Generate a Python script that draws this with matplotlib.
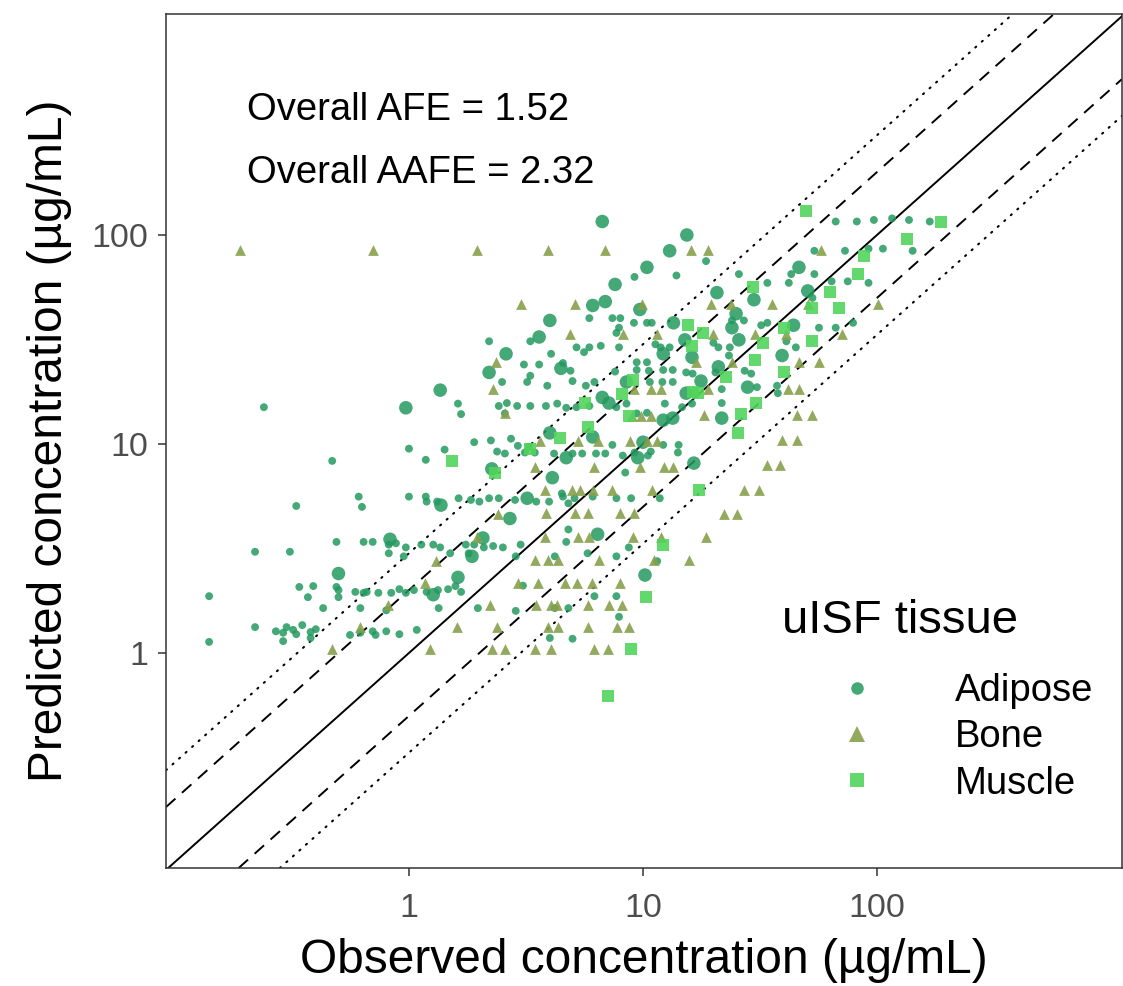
import numpy as np
import matplotlib
matplotlib.use("Agg")
import matplotlib.pyplot as plt
from matplotlib.lines import Line2D

plt.rcParams['font.family'] = ['Liberation Sans', 'DejaVu Sans']

# observed / predicted concentrations (ug/mL)
adipose_obs = [2.2, 2.6, 3.3, 3.6, 2.2, 2.5, 3.1, 3.3, 3.2, 0.24, 0.97, 1.36, 1.62, 1.67, 2.42, 2.62, 2.9, 3.3, 2.57,
               1.9, 2.24, 2.73, 2.92, 2.38, 2.57, 1.0, 1.42, 1.18, 0.47, 2.26, 0.61, 0.63, 0.33, 1.0, 1.18, 1.19, 1.32,
               1.37, 1.63, 1.84, 2.0, 2.2, 2.42, 3.2, 2.84, 3.5, 2.7, 0.49, 0.64, 0.70, 0.83, 0.82, 0.88, 0.97, 1.13,
               1.27, 1.36, 1.75, 1.9, 2.07, 2.09, 2.29, 2.52, 3.0, 0.22, 0.31, 0.82, 0.95, 1.5, 1.8, 1.86, 2.86, 0.5,
               1.62, 3.07, 0.34, 0.39, 0.37, 0.49, 0.5, 0.5, 0.59, 0.64, 0.66, 0.74, 0.84, 0.91, 0.97, 1.05, 1.19,
               1.27, 1.33, 1.47, 1.58, 1.67, 0.14, 0.43, 0.62, 0.80, 1.34, 1.97, 2.86, 0.22, 0.27, 0.29, 0.30, 0.32,
               0.33, 0.35, 0.38, 0.40, 0.38, 0.29, 0.56, 0.62, 0.70, 0.72, 0.80, 0.91, 1.08, 0.14, 4.1, 8.4, 9.5,
               10.8, 12.2, 14.2, 16.5, 3.97, 4.55, 5.1, 4.8, 7.7, 8.9, 11.8, 4.8, 6.4, 4.7, 8.7, 5.8, 7.7, 11.5, 4.2,
               10.2, 6.2, 7.7, 4.2, 4.8, 7.9, 4.0, 5.0, 21.7, 21.7, 21.7, 28, 30.7, 37.7, 66.6, 82, 97, 116, 137,
               168, 15.4, 18.6, 54, 73, 92, 106, 142, 46.4, 25.7, 43, 54, 34, 42, 64, 75, 92, 20.7, 29.8, 50.6, 53,
               25, 24, 27, 24, 32, 34, 44, 56.5, 66.6, 79, 25.7, 41, 45, 23.5, 21, 20, 16.2, 39.3, 21, 23.3, 27.2,
               29, 20.4, 16.3, 17.7, 15.3, 37.4, 6.7, 13, 10.4, 9.2, 13.9, 7.6, 6.9, 6.1, 9.7, 4.0, 5.9, 7.4, 8.0,
               9.15, 10.4, 10.9, 13.5, 7.9, 7.7, 5.2, 5.9, 6.6, 7.9, 11.3, 11.9, 13, 15.1, 5.6, 4.05, 9.4, 10.4,
               12.2, 3.6, 4.55, 4.46, 4.9, 7.6, 9.4, 10.6, 12.2, 13.4, 3.9, 5.0, 5.7, 6.2, 6.7, 8.5, 10.7, 12.1,
               13.4, 15.3, 3.85, 4.3, 4.7, 5.2, 5.9, 7.15, 7.7, 8.5, 9.4, 10.4, 12.4, 13.4, 12.2, 14.7, 16.2, 4.0,
               6.1, 10, 4.7, 3.26, 7.4, 3.13, 3.45, 4.17, 5.0, 5.5, 6.3, 6.9, 8.2, 9.2, 10.5, 14.1, 4.5, 6.1]
adipose_pred = [31, 27, 31, 32.5, 22, 19.8, 24, 21.2, 19.8, 15, 14.9, 18.1, 15.6, 13.9, 15.2, 15.7, 15.2, 15.2, 14,
                10.2, 10.4, 10.6, 9.8, 9.2, 9.0, 9.5, 9.4, 8.4, 8.3, 7.6, 5.6, 5.0, 5.05, 5.6, 5.6, 5.3, 5.3,
                5.1, 5.5, 5.4, 5.3, 5.5, 5.5, 5.5, 5.4, 5.3, 4.4, 3.4, 3.4, 3.4, 3.5, 3.3, 3.35, 3.2, 3.3,
                3.3, 3.2, 3.3, 3.3, 3.55, 3.2, 3.25, 3.2, 3.3, 3.05, 3.05, 3.0, 2.9, 3.0, 3.0, 2.9, 2.9, 2.4,
                2.3, 2.1, 2.07, 2.09, 1.85, 2.07, 2.0, 1.85, 1.96, 1.94, 1.96, 1.94, 1.94, 2.02, 1.94, 2.0, 1.96,
                1.9, 2.0, 2.02, 2.09, 1.96, 1.87, 1.64, 1.64, 1.6, 1.64, 1.64, 1.59, 1.33, 1.27, 1.25, 1.33, 1.29,
                1.23, 1.36, 1.26, 1.3, 1.18, 1.14, 1.22, 1.25, 1.27, 1.22, 1.27, 1.23, 1.29, 1.13, 6.9, 7.3, 8.6,
                9.2, 9.9, 9.9, 8.1, 5.3, 5.6, 5.5, 5.2, 5.5, 5.5, 5.5, 3.9, 3.7, 3.4, 3.2, 3.0, 2.9, 2.75, 2.9,
                2.36, 1.87, 1.87, 1.64, 1.64, 1.49, 1.18, 1.17, 18.3, 15.7, 13.3, 18.7, 18.7, 17.5, 116, 116, 118, 120, 118,
                116, 100, 75, 84, 84, 86, 86, 84, 70, 65, 65, 65, 59, 59, 60, 60, 59, 53, 49, 54, 50,
                42, 39, 39, 36, 37, 38, 37, 36, 36, 38, 31.5, 31, 29, 29, 29, 30.5, 26, 26.5, 23.4, 26.5, 22.4,
                21.7, 22, 21.7, 20, 22, 19, 116, 84, 70, 63, 64, 58, 48, 46, 44, 39, 40, 40, 40,
                38, 38, 38, 38, 36, 34, 29, 29, 29.5, 29, 30, 29, 29, 31.5, 27.5, 27, 24.6, 24.6,
                27, 24, 24.4, 23, 22.4, 22.2, 22.6, 22.4, 22.6, 22.6, 19, 20, 19, 19.8, 16.7, 19.8, 19.8, 19.8,
                19.8, 17.5, 15.2, 15.6, 14.9, 15, 15.2, 15.7, 15, 15.6, 14, 14.1, 15.6, 13.3, 13, 15, 15.6, 11.3,
                10.8, 10.2, 8.6, 9.7, 9.9, 9.1, 9.1, 9.0, 9.0, 9.0, 9.0, 9.0, 8.8, 9.1, 8.8, 9.1, 5.8, 5.6]
# 1 = larger symbol in the original figure
adipose_big = [0, 1, 0, 1, 1, 0, 0, 0, 0, 0, 1, 1, 0, 0, 0, 0, 0, 0, 0,
               0, 0, 0, 0, 0, 0, 0, 0, 0, 0, 1, 0, 0, 0, 0, 0, 0, 0,
               1, 0, 0, 0, 0, 0, 1, 0, 0, 1, 0, 0, 0, 1, 0, 0, 0, 0,
               0, 0, 0, 0, 1, 0, 0, 0, 0, 0, 0, 0, 0, 0, 0, 1, 0, 1,
               1, 0, 0, 0, 0, 0, 0, 0, 0, 0, 0, 0, 0, 0, 0, 0, 0,
               1, 0, 0, 0, 0, 0, 0, 0, 0, 0, 0, 0, 0, 0, 0, 0, 0,
               0, 0, 0, 0, 0, 0, 0, 0, 0, 0, 0, 0, 0, 0, 1, 0, 1,
               0, 0, 0, 1, 0, 0, 0, 0, 0, 0, 0, 0, 1, 0, 0, 0, 0, 0, 0,
               1, 0, 0, 0, 0, 0, 0, 0, 0, 0, 1, 1, 0, 0, 0, 0, 0, 0, 0,
               0, 1, 0, 0, 0, 0, 0, 0, 1, 0, 0, 0, 0, 0, 0, 0, 0, 1, 1, 1, 0,
               1, 0, 0, 1, 0, 0, 1, 0, 0, 0, 1, 0, 0, 0, 0, 0, 1, 1, 1, 0, 0,
               0, 0, 0, 1, 0, 0, 1, 1, 1, 0, 0, 1, 1, 1, 1, 1, 0, 0, 0,
               0, 0, 0, 1, 0, 0, 0, 0, 0, 0, 0, 0, 0, 1, 0, 0, 0, 0,
               1, 0, 0, 1, 0, 0, 0, 0, 0, 0, 0, 0, 0, 0, 1, 1, 0, 0,
               0, 1, 0, 0, 0, 0, 0, 1, 0, 0, 0, 0, 0, 1, 1, 0, 0, 1,
               1, 1, 1, 0, 0, 0, 0, 0, 0, 0, 0, 0, 0, 0, 0, 0, 0, 0]

bone_obs = [0.19, 0.70, 1.95, 3.93, 6.87, 16, 19, 57.6,
            3.0, 5.1, 9.9, 19.5, 23.7, 35.5, 50.6, 101,
            2.35, 2.29, 2.57,
            4.9, 8.2, 11.5, 20, 30, 40.9, 70.6,
            16.8, 24, 46.4, 56.5,
            9.2, 10.8, 11.9, 19, 41.6, 46.4,
            9.0, 9.8, 10.8, 18.2, 45.4, 53,
            3.63, 5.27, 6.4, 8.8, 10.4, 11.5, 39.3, 45.4,
            3.45, 6.2, 9.7, 12.3, 13.5, 33.9, 38.5,
            3.8, 4.97, 5.4, 6.1, 7.4, 10.9, 27, 31.3,
            2.4, 3.85, 5.1, 5.8, 8.0, 9.15, 22.2, 25.2,
            1.95, 3.8, 5.3, 5.9, 9.06, 11.9, 18.6,
            1.3, 3.45, 3.93, 4.33, 6.5, 11.2, 15.8,
            1.17, 2.92, 3.56, 4.64, 5.22, 6.06, 7.96,
            0.81, 2.22, 3.49, 4.05, 4.29, 5.83, 7.15, 8.12,
            0.62, 1.6, 2.38, 3.93, 4.33, 5.83, 7.74, 8.7,
            0.47, 1.23, 2.26, 2.57, 3.45, 4.05, 6.18, 7.08]
bone_pred = [85, 85, 85, 85, 85, 85, 85, 85,
             47, 47, 47, 47, 47, 47, 47, 47,
             24.6, 18.3, 14,
             33.5, 33.5, 33.5, 33.5, 33.5, 33.5, 33.5,
             24.6, 24.6, 24.6, 24.6,
             18.3, 18.3, 18.3, 18.3, 18.3, 18.3,
             13.6, 13.6, 13.6, 13.7, 13.7, 13.7,
             10.3, 10.3, 10.3, 10.3, 10.3, 10.3, 10.4, 10.4,
             7.8, 7.8, 7.8, 7.8, 7.8, 7.9, 7.9,
             6.0, 6.0, 6.0, 6.0, 6.0, 6.0, 6.0, 6.0,
             4.6, 4.7, 4.7, 4.7, 4.7, 4.7, 4.6, 4.6,
             3.6, 3.6, 3.6, 3.6, 3.6, 3.6, 3.6,
             2.75, 2.8, 2.8, 2.8, 2.8, 2.8, 2.8,
             2.16, 2.16, 2.16, 2.16, 2.16, 2.16, 2.16,
             1.7, 1.7, 1.7, 1.7, 1.7, 1.7, 1.7, 1.7,
             1.33, 1.33, 1.33, 1.33, 1.33, 1.33, 1.33, 1.33,
             1.04, 1.04, 1.04, 1.04, 1.04, 1.04, 1.04, 1.04]

muscle_obs = [49.7, 187, 134, 88, 83, 29.5, 63, 68.5, 53, 40, 32.6, 52.7, 30, 22.6, 40, 17.2, 30.4, 26.2, 25.4,
              5.65, 8.7, 9.06, 8.1, 5.8, 4.4, 3.3, 1.53, 2.33, 17.4, 12.2, 10.3, 8.9, 7.1, 15.6, 18, 16.2, 16.3]
muscle_pred = [130, 116, 96, 79, 65, 56.5, 53.5, 44.7, 44.5, 36, 30.5, 31, 25.2, 21, 22.2, 17.5, 15.7, 13.9, 11.3,
               15.7, 13.6, 20.3, 17.4, 12.1, 10.7, 9.5, 8.3, 7.3, 6.0, 3.3, 1.85, 1.05, 0.62, 37, 34, 29.5, 17.8]

tissues = ['Adipose', 'Bone', 'Muscle']
colors = {'Adipose': '#24995F', 'Bone': '#86A04C', 'Muscle': '#52D45C'}
afe = 1.52
aafe = 2.32

fig = plt.figure(figsize=(11.23, 9.86), dpi=100)
ax = fig.add_axes([166/1123, 1 - 868/986, (1122-166)/1123, (868-14)/986])
ax.set_xscale('log')
ax.set_yscale('log')

# unity, 2-fold and 3-fold lines
ax.axline((1, 1), (10, 10), color='black', lw=1.4, zorder=1)
for f in [2, 0.5]:
    ax.axline((1, f), (10, 10*f), color='black', lw=1.4, ls=(0, (6.5, 4.5)), zorder=1)
for f in [3, 1/3]:
    ax.axline((1, f), (10, 10*f), color='black', lw=1.5, ls=(0, (0.6, 3.6)), dash_capstyle='round', zorder=1)

sizes = np.where(np.array(adipose_big) == 1, 95, 32)
ax.scatter(adipose_obs, adipose_pred, s=sizes, marker='o', color=colors['Adipose'], alpha=0.85,
           linewidths=0, zorder=2)
ax.scatter(bone_obs, bone_pred, s=60, marker='^', color=colors['Bone'], alpha=0.9, linewidths=0, zorder=3)
ax.scatter(muscle_obs, muscle_pred, s=85, marker='s', color=colors['Muscle'], alpha=0.9, linewidths=0, zorder=4)

ax.set_xlim(0.0916, 1114)
ax.set_ylim(0.0936, 1141)
ticks = [1, 10, 100]
ax.set_xticks(ticks)
ax.set_xticklabels([str(t) for t in ticks])
ax.set_yticks(ticks)
ax.set_yticklabels([str(t) for t in ticks])
ax.minorticks_off()
ax.tick_params(axis='both', which='major', length=6, width=1.1, color='#333333',
               labelcolor='#4D4D4D', labelsize=24.5)
ax.tick_params(axis='x', pad=12)
ax.tick_params(axis='y', pad=7)
for sp in ax.spines.values():
    sp.set_color('#333333')
    sp.set_linewidth(1.1)

ax.set_xlabel('Observed concentration (µg/mL)', fontsize=34.5, labelpad=10)
ax.set_ylabel('Predicted concentration (µg/mL)', fontsize=34.5, labelpad=14)

ax.text(0.085, 0.8876, f'Overall AFE = {afe:.2f}', transform=ax.transAxes, fontsize=27.5, va='center')
ax.text(0.085, 0.8138, f'Overall AAFE = {aafe:.2f}', transform=ax.transAxes, fontsize=27.5, va='center')

# legend
ax.text(0.644, 0.289, 'uISF tissue', transform=ax.transAxes, fontsize=34, va='center')
handles = [Line2D([], [], ls='none', marker='o', markersize=9, color=colors['Adipose'], alpha=0.85, mew=0),
           Line2D([], [], ls='none', marker='^', markersize=12, color=colors['Bone'], alpha=0.9, mew=0),
           Line2D([], [], ls='none', marker='s', markersize=9.4, color=colors['Muscle'], alpha=0.9, mew=0)]
ax.legend(handles, tissues, loc='upper left', bbox_to_anchor=(0.703, 0.2284), frameon=False,
          fontsize=27.5, borderaxespad=0, borderpad=0, handlelength=1.0, handletextpad=2.06,
          labelspacing=0.27)

fig.savefig('out.png', dpi=100)
